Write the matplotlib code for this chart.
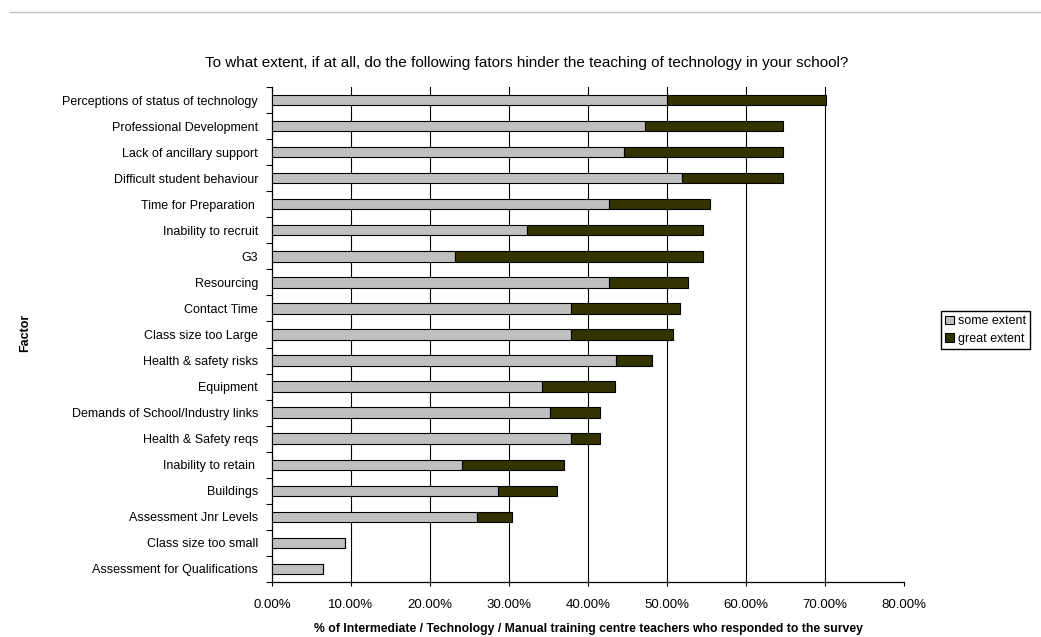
import matplotlib.pyplot as plt
from matplotlib.lines import Line2D
import numpy as np

plt.rcParams['font.family'] = ['Liberation Sans', 'DejaVu Sans']

factors = [
    "Perceptions of status of technology",
    "Professional Development",
    "Lack of ancillary support",
    "Difficult student behaviour",
    "Time for Preparation ",
    "Inability to recruit",
    "G3",
    "Resourcing",
    "Contact Time",
    "Class size too Large",
    "Health & safety risks",
    "Equipment",
    "Demands of School/Industry links",
    "Health & Safety reqs",
    "Inability to retain ",
    "Buildings",
    "Assessment Jnr Levels",
    "Class size too small",
    "Assessment for Qualifications",
]
some_extent = [50.0, 47.2, 44.5, 51.9, 42.6, 32.3, 23.2, 42.6, 37.9, 37.9,
               43.5, 34.2, 35.2, 37.9, 24.0, 28.6, 26.0, 9.3, 6.4]
great_extent = [20.1, 17.5, 20.2, 12.8, 12.8, 22.2, 31.3, 10.1, 13.8, 12.9,
                4.6, 9.2, 6.3, 3.6, 12.9, 7.5, 4.4, 0.0, 0.0]
x_ticks = [0, 10, 20, 30, 40, 50, 60, 70, 80]

fig = plt.figure(figsize=(10.41, 6.37), dpi=100)
ax = fig.add_axes([272/1041, 1 - 582/637, 632/1041, 495/637])

y = np.arange(len(factors))
ax.barh(y, some_extent, height=0.4, color='#c0c0c0', edgecolor='black',
        linewidth=0.8, label='some extent', zorder=3)
ax.barh(y, great_extent, left=some_extent, height=0.4, color='#333300',
        edgecolor='black', linewidth=0.8, label='great extent', zorder=3)

ax.set_xlim(0, 80)
ax.set_ylim(len(factors) - 0.5, -0.5)
ax.set_xticks(x_ticks, labels=[f"{v:.2f}%" for v in x_ticks], fontsize=9.5)

# category ticks sit between bars, labels at bar centres
ax.set_yticks(np.arange(len(factors) + 1) - 0.5, labels=[])
ax.set_yticks(y, labels=factors, minor=True, fontsize=9)
ax.tick_params(axis='y', which='major', length=4, width=0.8, direction='out')
ax.tick_params(axis='y', which='minor', length=0, pad=10)
ax.tick_params(axis='x', length=3, width=0.8, pad=9)

ax.grid(axis='x', color='black', linewidth=0.8, zorder=0)
ax.get_xgridlines()[-1].set_visible(False)
ax.get_xgridlines()[0].set_visible(False)
for side in ['top', 'right']:
    ax.spines[side].set_visible(False)
for side in ['left', 'bottom']:
    ax.spines[side].set_linewidth(0.9)

fig.text(588/1041, 1 - 629/637,
         "% of Intermediate / Technology / Manual training centre teachers who responded to the survey",
         ha='center', va='center', fontsize=8.8, fontweight='bold')
fig.text(25/1041, 1 - 333/637, "Factor", rotation=90, ha='center', va='center',
         fontsize=9, fontweight='bold')

fig.text(527/1041, 1 - 63/637,
         "To what extent, if at all, do the following fators hinder the teaching of technology in your school?",
         ha='center', va='center', fontsize=11)

fig.add_artist(Line2D([10/1041, 1], [1 - 12/637, 1 - 12/637], color='#c0c0c0', linewidth=1))

fig.legend(loc='upper left', bbox_to_anchor=(941/1041, 1 - 311/637), fontsize=9,
           frameon=True, fancybox=False, edgecolor='black', framealpha=1,
           handlelength=0.7, handleheight=0.7, handletextpad=0.3,
           borderpad=0.35, borderaxespad=0, labelspacing=0.45)

fig.savefig('out.png', dpi=100)
